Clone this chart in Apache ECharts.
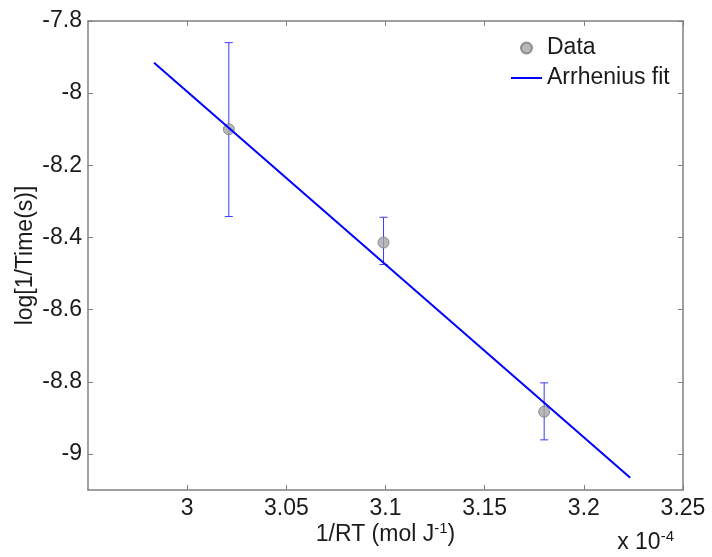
<!DOCTYPE html>
<html>
<head>
<meta charset="utf-8">
<script src="https://cdn.jsdelivr.net/npm/echarts@6/dist/echarts.min.js"></script>
<style>html,body{margin:0;padding:0;background:#fff;}#c{width:712px;height:557px;}</style>
</head>
<body>
<div id="c"></div>
<script>
// Data (x in units of 1e-4 mol/J)
var dataX = [3.021, 3.099, 3.180];
var dataY = [-8.10, -8.414, -8.883];
var errLow = [-8.342, -8.475, -8.961];
var errHigh = [-7.860, -8.344, -8.803];
var fitX = [2.9833, 3.2234];
var fitY = [-7.916, -9.066];
var xTicks = [3, 3.05, 3.1, 3.15, 3.2, 3.25];
var yTicks = [-9, -8.8, -8.6, -8.4, -8.2, -8, -7.8];

var FONT = '"Liberation Sans", Arial, sans-serif';
var AXC = '#808080';
var TXT = '#1a1a1a';

var chart = echarts.init(document.getElementById('c'), null, {renderer: 'canvas'});

function xAxisCfg(pos, showLabels) {
  return {
    type: 'value', position: pos, min: 2.95, max: 3.25,
    splitLine: {show: false},
    axisLine: {show: true, onZero: false, lineStyle: {color: AXC, width: 1.5}},
    axisTick: {show: true, inside: true, length: 5, customValues: xTicks, lineStyle: {color: AXC}},
    axisLabel: {show: showLabels, customValues: xTicks, color: TXT, fontFamily: FONT, fontSize: 23, margin: 7},
    name: showLabels ? '{a|1/RT (mol J}{s|-1}{a|)}' : '',
    nameLocation: 'middle', nameGap: 31, nameMoveOverlap: false,
    nameTextStyle: {color: TXT, fontFamily: FONT, fontSize: 23,
      rich: {a: {fontFamily: FONT, fontSize: 23, color: TXT}, s: {fontFamily: FONT, fontSize: 15, color: TXT, verticalAlign: 'top', padding: [0, 0, 12, 0]}}}
  };
}
function yAxisCfg(pos, showLabels) {
  return {
    type: 'value', position: pos, min: -9.1, max: -7.8,
    splitLine: {show: false},
    axisLine: {show: true, onZero: false, lineStyle: {color: AXC, width: 1.5}},
    axisTick: {show: true, inside: true, length: 5, customValues: yTicks, lineStyle: {color: AXC}},
    axisLabel: {show: showLabels, customValues: yTicks, color: TXT, fontFamily: FONT, fontSize: 23, margin: 6},
    name: showLabels ? 'log[1/Time(s)]' : '',
    nameLocation: 'middle', nameGap: 51, nameRotate: 90, nameMoveOverlap: false,
    nameTextStyle: {color: TXT, fontFamily: FONT, fontSize: 23}
  };
}

var errData = dataX.map(function (x, i) { return [x, errLow[i], errHigh[i]]; });
var ptData = dataX.map(function (x, i) { return [x, dataY[i]]; });
var fitData = fitX.map(function (x, i) { return [x, fitY[i]]; });

chart.setOption({
  backgroundColor: '#ffffff',
  animation: false,
  grid: {left: 88, right: 29, top: 21, bottom: 67, containLabel: false},
  xAxis: [xAxisCfg('bottom', true), xAxisCfg('top', false)],
  yAxis: [yAxisCfg('left', true), yAxisCfg('right', false)],
  legend: {
    orient: 'vertical', left: 506, top: 28,
    itemWidth: 31, itemHeight: 11, itemGap: 0,
    textStyle: {color: TXT, fontFamily: FONT, fontSize: 23, lineHeight: 30, padding: [0, 0, 0, 0]},
    data: [
      {name: 'Data', icon: 'circle'},
      {name: 'Arrhenius fit', icon: 'path://M0 0 H31 V2 H0 Z', itemStyle: {color: '#0000ff', borderWidth: 0}}
    ]
  },
  graphic: [{
    type: 'text', right: 38, top: 529,
    style: {
      rich: {
        a: {fontFamily: FONT, fontSize: 23, fill: TXT},
        s: {fontFamily: FONT, fontSize: 15, fill: TXT, verticalAlign: 'top', padding: [0, 0, 12, 0]}
      },
      text: '{a|x 10}{s|-4}'
    }
  }],
  series: [
    {
      type: 'custom', name: 'err', z: 1,
      xAxisIndex: 0, yAxisIndex: 0,
      data: errData,
      renderItem: function (params, api) {
        var x = api.value(0);
        var lo = api.coord([x, api.value(1)]);
        var hi = api.coord([x, api.value(2)]);
        var w = 4;
        var st = {stroke: '#3a3aff', lineWidth: 1};
        return {type: 'group', children: [
          {type: 'line', shape: {x1: lo[0], y1: lo[1], x2: hi[0], y2: hi[1]}, style: st},
          {type: 'line', shape: {x1: lo[0] - w, y1: lo[1], x2: lo[0] + w, y2: lo[1]}, style: st},
          {type: 'line', shape: {x1: hi[0] - w, y1: hi[1], x2: hi[0] + w, y2: hi[1]}, style: st}
        ]};
      }
    },
    {
      type: 'scatter', name: 'Data', z: 2,
      xAxisIndex: 0, yAxisIndex: 0,
      symbol: 'circle', symbolSize: 11,
      itemStyle: {color: '#a6a6a6', borderColor: '#7a7a7a', borderWidth: 1},
      data: ptData
    },
    {
      type: 'line', name: 'Arrhenius fit', z: 3,
      xAxisIndex: 0, yAxisIndex: 0,
      symbol: 'none', showSymbol: false,
      lineStyle: {color: '#0000ff', width: 2},
      itemStyle: {color: '#0000ff'},
      data: fitData
    }
  ]
});
</script>
</body>
</html>
